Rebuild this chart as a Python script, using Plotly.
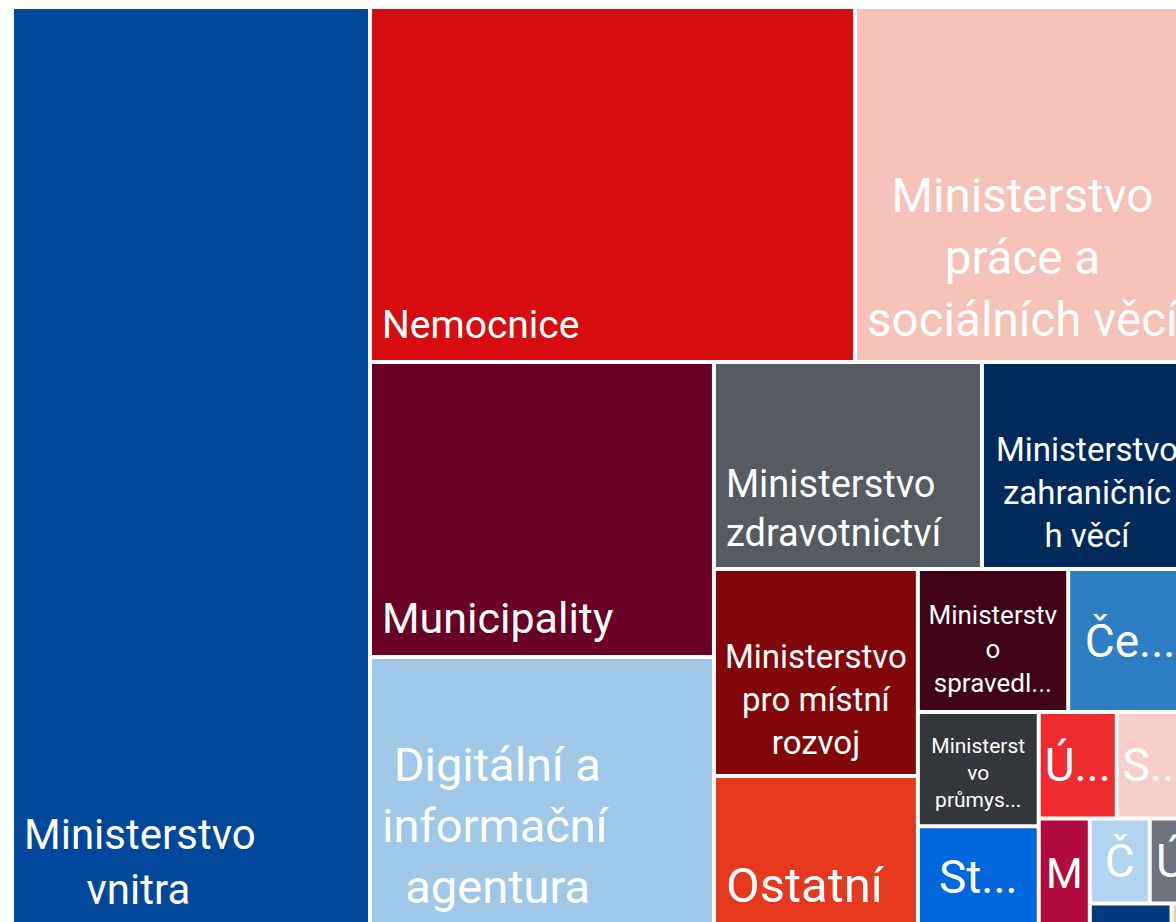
import plotly.graph_objects as go

NB = "\u00a0"

# ---- data: leaf cells (layout order) ----
agencies = [
    "Ministerstvo vnitra", "Nemocnice", "Ministerstvo práce a sociálních věcí", "Municipality",
    "Digitální a informační agentura", "Ministerstvo zdravotnictví", "Ministerstvo zahraničních věcí",
    "Ministerstvo pro místní rozvoj", "Ostatní", "Ministerstvo spravedlnosti", "Če...",
    "Ministerstvo průmyslu a obchodu", "St...", "Ú...", "S...", "M...", "Č...", "Ú....", "…", "……",
]
shown_text = [
    "Ministerstvo<br>" + NB * 6 + "vnitra",
    "Nemocnice",
    "Ministerstvo<br>práce a<br>sociálních věcí",
    "Municipality",
    NB + "Digitální a<br>informační<br>" + NB * 2 + "agentura",
    "Ministerstvo<br>zdravotnictví",
    "Ministerstvo<br>zahraničníc<br>h věcí",
    "Ministerstvo<br>pro místní<br>rozvoj",
    "Ostatní",
    "Ministerstv<br>o<br>spravedl...",
    "Če...",
    "Ministerst<br>vo<br>průmys...",
    "St...", "Ú...", "S...", "M", "Č", "Ú", "", "",
]
amounts = [329.7, 172.2, 119.6, 101.5, 93.2, 55.5, 43.5, 42.2, 31.0, 21.5, 17.7,
           13.8, 12.3, 8.3, 8.0, 5.6, 5.1, 3.6, 2.0, 0.5]
colors = ["#01479A", "#D60D0F", "#F6C1B8", "#680125", "#9FC8E8", "#555A63", "#002A5C",
          "#820709", "#E6381C", "#3F0217", "#2D7EC2", "#33363B", "#0068DC", "#F02B30",
          "#F9CEC9", "#B10A3F", "#B3D4EE", "#6E737E", "#003A80", "#F5C6C0"]
font_sizes = [42, 39, 47.5, 43, 47, 38, 33, 33, 49, 26, 46, 21, 46, 46, 46, 42, 46, 46, 20, 20]
label_place = ["bottom left", "bottom left", "bottom center", "bottom left", "bottom left", "bottom left",
               "bottom center", "bottom center", "bottom left", "bottom center", "middle center",
               "bottom center", "middle center", "middle center", "middle center", "middle center",
               "middle center", "middle center", "middle center", "middle center"]

# nesting (node, parent) in drawing order; ints refer to leaf indices, strings are grouping nodes
structure = [
    ("root", ""), (0, "root"), ("g1", "root"),
    ("r1", "g1"), (1, "r1"), (2, "r1"),
    ("g2", "g1"), ("c2", "g2"), (3, "c2"), (4, "c2"),
    ("g3", "g2"), ("r3", "g3"), (5, "r3"), (6, "r3"),
    ("g4", "g3"), ("c4", "g4"), (7, "c4"), (8, "c4"),
    ("g5", "g4"), ("r5", "g5"), (9, "r5"), (10, "r5"),
    ("g6", "g5"), ("c6", "g6"), (11, "c6"), (12, "c6"),
    ("g7", "g6"), ("r7", "g7"), (13, "r7"), (14, "r7"),
    ("g8", "g7"), (15, "g8"),
    ("g9", "g8"), ("r9", "g9"), (16, "r9"), (17, "r9"),
    ("g10", "g9"), (18, "g10"), (19, "g10"),
]

# page geometry (px)
FIG_W, FIG_H = 1197, 926
BOX_W, BOX_H = 1176, 917


def nid(n):
    return f"leaf{n}" if isinstance(n, int) else n


ids = [nid(n) for n, p in structure]
parents = [nid(p) if p != "" else "" for n, p in structure]
labels = [agencies[n] if isinstance(n, int) else n for n, p in structure]
values = [amounts[n] if isinstance(n, int) else 0 for n, p in structure]


def dom(left, top):
    return dict(x=[left / FIG_W, (left + BOX_W) / FIG_W],
                y=[(FIG_H - top - BOX_H) / FIG_H, (FIG_H - top) / FIG_H])


def make_trace(position, filled, left, top):
    texts, fcolors, sizes = [], [], []
    for n, p in structure:
        if isinstance(n, int):
            texts.append(shown_text[n] if (position is not None and label_place[n] == position) else "")
            fcolors.append(colors[n] if filled else "rgba(0,0,0,0)")
            sizes.append(font_sizes[n])
        else:
            texts.append("")
            fcolors.append("#FFFFFF" if filled else "rgba(0,0,0,0)")
            sizes.append(20)
    return go.Treemap(
        ids=ids, labels=labels, parents=parents, values=values,
        branchvalues="remainder", sort=False,
        text=texts, textinfo="text", textposition=position or "middle center",
        textfont=dict(family="Roboto", color="white", size=sizes),
        marker=dict(colors=fcolors, line=dict(width=0), pad=dict(t=0, l=0, r=0, b=0)),
        tiling=dict(packing="slice-dice", pad=4),
        pathbar=dict(visible=False),
        hoverinfo="label+value" if filled else "skip",
        domain=dom(left, top),
    )


fig = go.Figure([
    make_trace("middle center", True, 14, 9),
    make_trace("bottom left", False, 21, 0),
    make_trace("bottom center", False, 14, 0),
])
fig.update_layout(
    width=FIG_W, height=FIG_H, autosize=False,
    margin=dict(l=0, t=0, r=0, b=0),
    paper_bgcolor="white", plot_bgcolor="white",
    showlegend=False,
)
fig.write_html(
    "out.html",
    config={"displayModeBar": False, "responsive": False},
    post_script="document.body.style.margin='0';document.documentElement.style.overflow='hidden';",
)
